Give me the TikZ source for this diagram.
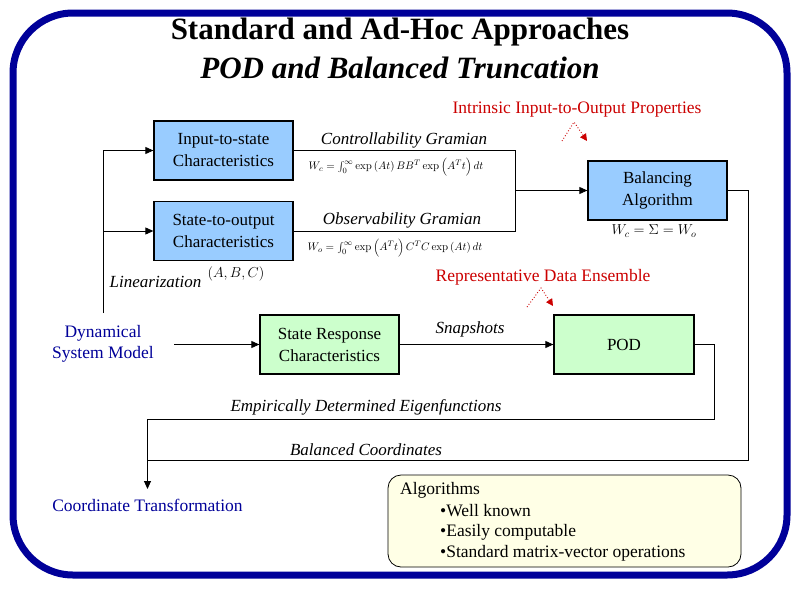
\documentclass[tikz,border=0pt]{standalone}
\usepackage[no-math]{fontspec}
\setmainfont{Liberation Serif}
\usetikzlibrary{arrows.meta}
\definecolor{frameblue}{HTML}{000099}
\definecolor{boxblue}{HTML}{99CCFF}
\definecolor{boxgreen}{HTML}{CCFFCC}
\definecolor{cream}{HTML}{FFFFE6}
\definecolor{darkred}{HTML}{CC0000}
\begin{document}
\begin{tikzpicture}[x=1pt,y=-1pt,
  blk/.style={draw=black, line width=1.3pt, minimum width=139pt, minimum height=59pt,
    align=center, inner sep=0pt, font=\fontsize{17}{22}\selectfont},
  conn/.style={line width=0.9pt},
  arr/.style={conn, -{Triangle[length=8pt,width=7pt]}},
  lbl/.style={inner sep=0pt, font=\fontsize{17}{20}\selectfont\itshape},
  bluetxt/.style={inner sep=0pt, align=center, text=frameblue, font=\fontsize{17.5}{21}\selectfont},
  redtxt/.style={inner sep=0pt, text=darkred, font=\fontsize{17.5}{21}\selectfont},
  redarr/.style={darkred, line width=0.9pt, dotted, -{Triangle[length=7pt,width=7pt]}},
  formula/.style={inner sep=0pt, font=\fontsize{11}{13}\selectfont},
  plain/.style={inner sep=0pt, anchor=west, font=\fontsize{17.5}{21}\selectfont},
  ]
\useasboundingbox (0,0) rectangle (800,600);
\fill[white] (0,0) rectangle (800,600);
% frame
\draw[frameblue, line width=7pt, rounded corners=60pt] (13,13) rectangle (787,575);
% title
\node[inner sep=0pt, font=\fontsize{31}{36}\selectfont\bfseries] (t1) at (400,32) {Standard and Ad-Hoc Approaches};
\node[inner sep=0pt, font=\fontsize{31}{36}\selectfont\bfseries\itshape] (t2) at (400,68) {POD and Balanced Truncation};
% boxes
\node[blk, fill=boxblue] (its) at (223.5,150.5) {Input-to-state\\Characteristics};
\node[blk, fill=boxblue] (sto) at (223.5,231) {State-to-output\\Characteristics};
\node[blk, fill=boxblue] (bal) at (657.5,190.5) {Balancing\\Algorithm};
\node[blk, fill=boxgreen] (srs) at (329.5,344.5) {State Response\\Characteristics};
\node[blk, fill=boxgreen, minimum width=140pt] (pod) at (624,344.5) {POD};
% dynamical system
\node[bluetxt] (dsm) at (103,344) {Dynamical\\System Model};
\node[bluetxt] (ctr) at (147.5,505) {Coordinate Transformation};
% left branch
\coordinate (vtop) at (103,150.5);
\coordinate (vbot) at (103,313);
\coordinate (dsmout) at (174,344.5);
\coordinate (ctend) at (147.5,489);
\draw[conn] (vbot) -- (vtop);
\draw[arr] (vtop) -- (its.west);
\draw[arr] (vtop |- sto.west) -- (sto.west);
\draw[arr] (dsmout) -- (srs.west);
% gramian join
\coordinate (join) at (515,190.5);
\draw[conn] (its.east) -- (its.east -| join) -- (sto.east -| join) -- (sto.east);
\draw[arr] (join) -- (bal.west);
\draw[arr] (srs.east) -- (pod.west);
% bottom returns
\coordinate (brk1) at (714,419);
\coordinate (brk2) at (748,460);
\draw[arr] (pod.east) -| (brk1) -- (brk1 -| ctend) -- (ctend);
\draw[conn] (bal.east) -| (brk2) -- (brk2 -| ctend);
% labels
\node[lbl] (cg) at (404,140) {Controllability Gramian};
\node[formula] (wc) at (396,167) {$W_c=\int_0^{\infty}\exp\left(At\right)BB^{T}\exp\left(A^{T}t\right)dt$};
\node[lbl] (og) at (402,220) {Observability Gramian};
\node[formula] (wo) at (395,248) {$W_o=\int_0^{\infty}\exp\left(A^{T}t\right)C^{T}C\exp\left(At\right)dt$};
\node[inner sep=0pt, font=\fontsize{14}{16}\selectfont] (sig) at (654,231) {$W_c=\Sigma=W_o$};
\node[lbl] (lin) at (155.5,282) {Linearization};
\node[inner sep=0pt, font=\fontsize{14}{16}\selectfont] (abc) at (236,274) {$\left(A,B,C\right)$};
\node[lbl] (snap) at (470,329) {Snapshots};
\node[lbl] (emp) at (366,407) {Empirically Determined Eigenfunctions};
\node[lbl] (bc) at (366,450) {Balanced Coordinates};
% red annotations
\node[redtxt] (iio) at (577,110) {Intrinsic Input-to-Output Properties};
\coordinate (r1a) at (562,141);
\coordinate (r1b) at (574,122);
\coordinate (r1c) at (587,141);
\draw[redarr] (r1a) -- (r1b) -- (r1c);
\node[redtxt] (rde) at (543,277) {Representative Data Ensemble};
\coordinate (r2a) at (527,307);
\coordinate (r2b) at (541,288);
\coordinate (r2c) at (553,306);
\draw[redarr] (r2a) -- (r2b) -- (r2c);
% algorithms box
\node[draw=black, line width=0.8pt, rounded corners=13pt, fill=cream, minimum width=353pt, minimum height=92pt, inner sep=0pt] (alg) at (564.5,521) {};
\node[plain] (a0) at (400,490) {Algorithms};
\node[plain] (a1) at (440,511) {•Well known};
\node[plain] (a2) at (440,532) {•Easily computable};
\node[plain] (a3) at (440,553) {•Standard matrix-vector operations};
\end{tikzpicture}
\end{document}
